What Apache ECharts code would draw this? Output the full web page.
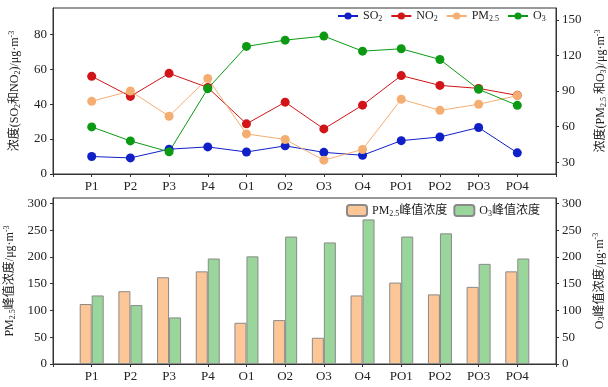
<!DOCTYPE html>
<html><head><meta charset="utf-8">
<script src="https://cdn.jsdelivr.net/npm/echarts@6/dist/echarts.min.js"></script>
<style>html,body{margin:0;padding:0;background:#fff}#c{width:608px;height:387px}</style>
</head><body><div id="c"></div>
<script>
var categories = ['P1','P2','P3','P4','O1','O2','O3','O4','PO1','PO2','PO3','PO4'];
var so2 = [10, 9.2, 14.2, 15.5, 12.6, 16.1, 12.4, 10.7, 19.1, 21.2, 26.6, 12.1];
var no2 = [55.9, 44.4, 57.6, 49.5, 28.7, 41.1, 25.8, 39.4, 56.3, 50.7, 49.0, 45.0];
var pm25 = [81.3, 90, 68.7, 100.6, 53.8, 49.1, 31.7, 40.7, 83, 73.7, 78.8, 86.1];
var o3 = [59.7, 47.9, 38.7, 92, 127.6, 132.9, 136.3, 123.6, 125.6, 116.6, 91.4, 77.9];
var pm25Peak = [112, 136, 162, 173, 77, 82, 49, 128, 152, 130, 144, 173];
var o3Peak = [128, 110, 87, 197, 201, 238, 227, 270, 238, 244, 187, 197];
var leftTopTicks = [0, 20, 40, 60, 80];
var rightTopTicks = [30, 60, 90, 120, 150];
var bottomTicks = [0, 50, 100, 150, 200, 250, 300];

var FONT = '"Liberation Serif","Noto Sans CJK SC",serif';
var axisCats = [''].concat(categories).concat(['']);
function pad(a){ return [null].concat(a).concat([null]); }
var rich = {
  sub: {fontSize: 8, fontFamily: FONT, color: '#222', padding: [6,0,0,0]},
  sup: {fontSize: 8, fontFamily: FONT, color: '#222', padding: [0,0,6,0]},
  n: {fontSize: 12, fontFamily: FONT, color: '#222'}
};
var lrich = {
  sub: {fontSize: 8, fontFamily: FONT, color: '#222', padding: [6,0,0,0]},
  n: {fontSize: 12, fontFamily: FONT, color: '#222'}
};
var axLine = {show: true, lineStyle: {color: '#333', width: 1}};
var tick = {show: true, length: 3, lineStyle: {color: '#333'}};
function yAxis(gi, min, max, ticks, pos, name, gap){
  return {
    type: 'value', gridIndex: gi, min: min, max: max, position: pos,
    axisLine: axLine,
    axisTick: {show: true, length: 3, lineStyle: {color: '#333'}, customValues: ticks},
    axisLabel: {fontFamily: FONT, fontSize: 13, color: '#222', margin: 6, customValues: ticks},
    splitLine: {show: false},
    name: name, nameLocation: 'middle', nameGap: gap, nameRotate: 90,
    nameTextStyle: {fontFamily: FONT, fontSize: 12, color: '#222', rich: rich}
  };
}
function xAxis(gi){
  return {
    type: 'category', gridIndex: gi, data: axisCats, boundaryGap: false,
    axisLine: axLine, axisTick: tick,
    axisLabel: {fontFamily: FONT, fontSize: 13, color: '#222', margin: 6, interval: 0},
    splitLine: {show: false}
  };
}
function lineS(name, data, color, yi){
  return {type: 'line', name: name, xAxisIndex: 0, yAxisIndex: yi, data: pad(data),
    symbol: 'circle', symbolSize: 9, lineStyle: {width: 1, color: color},
    itemStyle: {color: color}, connectNulls: false};
}
var legendFmt = {
  'SO2': '{n|SO}{sub|2}', 'NO2': '{n|NO}{sub|2}', 'PM25': '{n|PM}{sub|2.5}', 'O3': '{n|O}{sub|3}',
  'PMpk': '{n|PM}{sub|2.5}{n|峰值浓度}', 'O3pk': '{n|O}{sub|3}{n|峰值浓度}'
};
var chart = echarts.init(document.getElementById('c'), null, {renderer: 'canvas'});
chart.setOption({
  animation: false,
  backgroundColor: '#fff',
  grid: [
    {left: 53, right: 52, top: 8, height: 166, show: true, borderColor: '#333', borderWidth: 1, outerBoundsMode: 'none', containLabel: false},
    {left: 53, right: 52, top: 198, height: 166, show: true, borderColor: '#333', borderWidth: 1, outerBoundsMode: 'none', containLabel: false}
  ],
  legend: [
    {data: ['SO2','NO2','PM25','O3'], left: 337, top: 10, padding: 0, itemWidth: 20, itemHeight: 9, itemGap: 8,
     formatter: function(n){ return legendFmt[n]; }, textStyle: {rich: lrich, fontSize: 12}},
    {data: ['PMpk','O3pk'], left: 346, top: 204, padding: 0, itemWidth: 20, itemHeight: 11, itemGap: 6,
     formatter: function(n){ return legendFmt[n]; }, textStyle: {rich: lrich, fontSize: 12}}
  ],
  xAxis: [xAxis(0), xAxis(1)],
  yAxis: [
    yAxis(0, 0, 95, leftTopTicks, 'left', '{n|浓度(SO}{sub|2}{n|和NO}{sub|2}{n|)/μg·m}{sup|-3}', 31),
    yAxis(0, 20, 160, rightTopTicks, 'right', '{n|浓度(PM}{sub|2.5}{n| 和O}{sub|3}{n|)/μg·m}{sup|-3}', 38),
    yAxis(1, 0, 310, bottomTicks, 'left', '{n|PM}{sub|2.5}{n|峰值浓度/μg·m}{sup|-3}', 31),
    yAxis(1, 0, 310, bottomTicks, 'right', '{n|O}{sub|3}{n|峰值浓度/μg·m}{sup|-3}', 35)
  ],
  series: [
    lineS('SO2', so2, '#1020c8', 0),
    lineS('NO2', no2, '#d01418', 0),
    lineS('PM25', pm25, '#f5ae72', 1),
    lineS('O3', o3, '#0c9a14', 1),
    {type: 'bar', name: 'PMpk', xAxisIndex: 1, yAxisIndex: 2, data: pad(pm25Peak), barWidth: 12, barGap: '0%',
     itemStyle: {color: '#fcc696', borderColor: '#8a8a8a', borderWidth: 1}},
    {type: 'bar', name: 'O3pk', xAxisIndex: 1, yAxisIndex: 3, data: pad(o3Peak), barWidth: 12, barGap: '0%',
     itemStyle: {color: '#9ad69c', borderColor: '#8a8a8a', borderWidth: 1}}
  ]
});
</script></body></html>
